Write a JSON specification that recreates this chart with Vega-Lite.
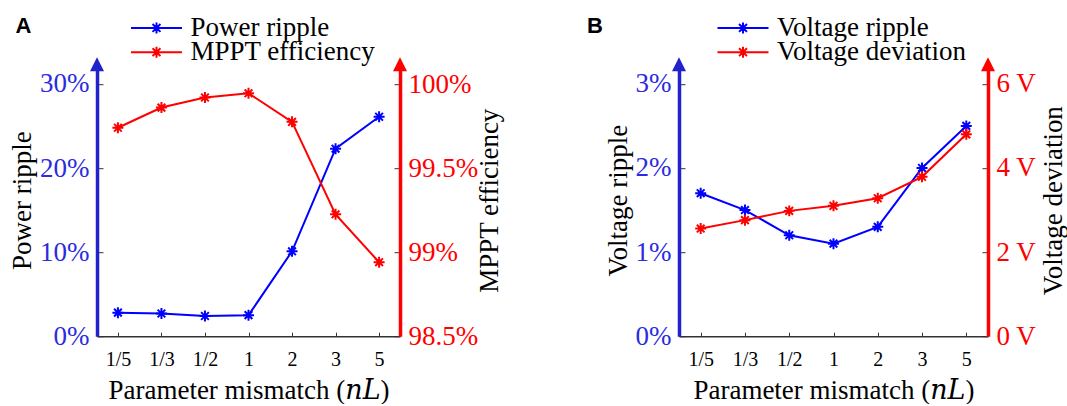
{
  "$schema": "https://vega.github.io/schema/vega-lite/v6.json",
  "background": "white",
  "padding": {"left": 8, "top": 14.2, "right": 0, "bottom": 0},
  "spacing": 84,
  "config": {
    "font": "Liberation Serif",
    "view": {"stroke": null},
    "axis": {"grid": false, "labelFont": "Liberation Serif", "titleFont": "Liberation Serif, DejaVu Serif", "titleFontWeight": "normal", "titleColor": "#000000", "tickColor": "#333333", "tickWidth": 1, "tickSize": -4},
    "axisY": {"tickSize": -6},
    "title": {"font": "Liberation Sans", "fontWeight": "bold", "fontSize": 22, "anchor": "start", "frame": "bounds", "color": "#000000", "offset": -23.3},
    "legend": {"orient": "none", "title": null, "padding": 0, "labelFont": "Liberation Serif", "labelFontSize": 27, "labelColor": "#000000", "labelOffset": 20.5, "labelLimit": 400, "rowPadding": 0, "symbolSize": 576, "symbolStrokeWidth": 2, "symbolFillColor": "transparent", "symbolType": "M-2.125,0H2.125M-0.46,0H0.46M0,-0.46V0.46M-0.33,-0.33L0.33,0.33M-0.33,0.33L0.33,-0.33"}
  },
  "datasets": {
    "a": [
      {"nL": "1/5", "series": "Power ripple", "value": 2.8},
      {"nL": "1/3", "series": "Power ripple", "value": 2.7},
      {"nL": "1/2", "series": "Power ripple", "value": 2.4},
      {"nL": "1", "series": "Power ripple", "value": 2.5},
      {"nL": "2", "series": "Power ripple", "value": 10.1},
      {"nL": "3", "series": "Power ripple", "value": 22.3},
      {"nL": "5", "series": "Power ripple", "value": 26.1},
      {"nL": "1/5", "series": "MPPT efficiency", "value": 99.74},
      {"nL": "1/3", "series": "MPPT efficiency", "value": 99.86},
      {"nL": "1/2", "series": "MPPT efficiency", "value": 99.92},
      {"nL": "1", "series": "MPPT efficiency", "value": 99.945},
      {"nL": "2", "series": "MPPT efficiency", "value": 99.775},
      {"nL": "3", "series": "MPPT efficiency", "value": 99.225},
      {"nL": "5", "series": "MPPT efficiency", "value": 98.94}
    ],
    "b": [
      {"nL": "1/5", "series": "Voltage ripple", "value": 1.7},
      {"nL": "1/3", "series": "Voltage ripple", "value": 1.5},
      {"nL": "1/2", "series": "Voltage ripple", "value": 1.2},
      {"nL": "1", "series": "Voltage ripple", "value": 1.1},
      {"nL": "2", "series": "Voltage ripple", "value": 1.3},
      {"nL": "3", "series": "Voltage ripple", "value": 2.0},
      {"nL": "5", "series": "Voltage ripple", "value": 2.5},
      {"nL": "1/5", "series": "Voltage deviation", "value": 2.56},
      {"nL": "1/3", "series": "Voltage deviation", "value": 2.76},
      {"nL": "1/2", "series": "Voltage deviation", "value": 2.98},
      {"nL": "1", "series": "Voltage deviation", "value": 3.1},
      {"nL": "2", "series": "Voltage deviation", "value": 3.28},
      {"nL": "3", "series": "Voltage deviation", "value": 3.79},
      {"nL": "5", "series": "Voltage deviation", "value": 4.8}
    ]
  },
  "hconcat": [
    {
      "title": {"text": "A", "dx": 7},
      "width": 303,
      "height": 272,
      "data": {"name": "a"},
      "encoding": {
        "x": {"field": "nL", "type": "ordinal", "sort": ["1/5", "1/3", "1/2", "1", "2", "3", "5"], "scale": {"type": "point", "padding": 0.48},
          "axis": {"title": "Parameter mismatch (𝑛𝐿)", "labelAngle": 0, "labelFontSize": 20, "labelColor": "#000000", "labelPadding": 17.5, "domainColor": "#333333", "domainWidth": 1.5, "titleFontSize": 27, "titlePadding": 8}}
      },
      "layer": [
        {
          "transform": [{"filter": "datum.series === 'Power ripple'"}],
          "encoding": {"y": {"field": "value", "type": "quantitative", "scale": {"domain": [0, 32.35], "nice": false, "zero": false},
            "axis": {"orient": "left", "title": "Power ripple", "values": [0, 10, 20, 30], "labelExpr": "datum.value + '%'", "domainColor": "#2222CC", "domainWidth": 3.5, "labelColor": "#2B2BE0", "labelFontSize": 27, "labelPadding": 14, "titleFontSize": 27, "titlePadding": 3}}},
          "layer": [
            {"mark": {"type": "line", "strokeWidth": 2}, "encoding": {"color": {"field": "series", "type": "nominal", "scale": {"domain": ["Power ripple"], "range": ["#0000FF"]}, "legend": {"legendX": 46, "legendY": -49.8}}}},
            {"mark": {"type": "point", "shape": "M-1,0H1M0,-1V1M-0.7,-0.7L0.7,0.7M-0.7,0.7L0.7,-0.7", "filled": false, "size": 121, "strokeWidth": 2, "opacity": 1}, "encoding": {"color": {"field": "series", "type": "nominal", "scale": {"domain": ["Power ripple"], "range": ["#0000FF"]}}}},
            {"transform": [{"filter": "datum.nL === '1/5'"}], "mark": {"type": "point", "shape": "M0,-1L-1,1L1,1Z", "filled": true, "size": 196, "color": "#2222CC", "opacity": 1, "strokeWidth": 0}, "encoding": {"x": {"value": 0}, "y": {"datum": 32.35, "type": "quantitative"}}}
          ]
        },
        {
          "transform": [{"filter": "datum.series === 'MPPT efficiency'"}],
          "encoding": {"y": {"field": "value", "type": "quantitative", "scale": {"domain": [98.5, 100.118], "nice": false, "zero": false},
            "axis": {"orient": "right", "title": "MPPT efficiency", "titleAngle": 270, "values": [98.5, 99, 99.5, 100], "labelExpr": "datum.value + '%'", "domainColor": "#FF0000", "domainWidth": 3.5, "labelColor": "#FF0000", "labelFontSize": 27, "labelPadding": 14, "titleFontSize": 27, "titlePadding": 26}}},
          "layer": [
            {"mark": {"type": "line", "strokeWidth": 2}, "encoding": {"stroke": {"field": "series", "type": "nominal", "scale": {"domain": ["MPPT efficiency"], "range": ["#FF0000"]}, "legend": {"legendX": 46, "legendY": -25.5}}}},
            {"mark": {"type": "point", "shape": "M-1,0H1M0,-1V1M-0.7,-0.7L0.7,0.7M-0.7,0.7L0.7,-0.7", "filled": false, "size": 121, "strokeWidth": 2, "opacity": 1}, "encoding": {"stroke": {"field": "series", "type": "nominal", "scale": {"domain": ["MPPT efficiency"], "range": ["#FF0000"]}}}},
            {"transform": [{"filter": "datum.nL === '1/5'"}], "mark": {"type": "point", "shape": "M0,-1L-1,1L1,1Z", "filled": true, "size": 196, "color": "#FF0000", "opacity": 1, "strokeWidth": 0}, "encoding": {"x": {"value": "width"}, "y": {"datum": 100.118, "type": "quantitative"}}}
          ]
        }
      ],
      "resolve": {"scale": {"y": "independent"}}
    },
    {
      "title": {"text": "B", "dx": -17},
      "width": 309,
      "height": 272,
      "data": {"name": "b"},
      "encoding": {
        "x": {"field": "nL", "type": "ordinal", "sort": ["1/5", "1/3", "1/2", "1", "2", "3", "5"], "scale": {"type": "point", "padding": 0.49},
          "axis": {"title": "Parameter mismatch (𝑛𝐿)", "labelAngle": 0, "labelFontSize": 20, "labelColor": "#000000", "labelPadding": 17.5, "domainColor": "#333333", "domainWidth": 1.5, "titleFontSize": 27, "titlePadding": 8}}
      },
      "layer": [
        {
          "transform": [{"filter": "datum.series === 'Voltage ripple'"}],
          "encoding": {"y": {"field": "value", "type": "quantitative", "scale": {"domain": [0, 3.234], "nice": false, "zero": false},
            "axis": {"orient": "left", "title": "Voltage ripple", "values": [0, 1, 2, 3], "labelExpr": "datum.value + '%'", "domainColor": "#2222CC", "domainWidth": 3.5, "labelColor": "#2B2BE0", "labelFontSize": 27, "labelPadding": 14, "titleFontSize": 27, "titlePadding": 3}}},
          "layer": [
            {"mark": {"type": "line", "strokeWidth": 2}, "encoding": {"color": {"field": "series", "type": "nominal", "scale": {"domain": ["Voltage ripple"], "range": ["#0000FF"]}, "legend": {"legendX": 50.5, "legendY": -49.8}}}},
            {"mark": {"type": "point", "shape": "M-1,0H1M0,-1V1M-0.7,-0.7L0.7,0.7M-0.7,0.7L0.7,-0.7", "filled": false, "size": 121, "strokeWidth": 2, "opacity": 1}, "encoding": {"color": {"field": "series", "type": "nominal", "scale": {"domain": ["Voltage ripple"], "range": ["#0000FF"]}}}},
            {"transform": [{"filter": "datum.nL === '1/5'"}], "mark": {"type": "point", "shape": "M0,-1L-1,1L1,1Z", "filled": true, "size": 196, "color": "#2222CC", "opacity": 1, "strokeWidth": 0}, "encoding": {"x": {"value": 0}, "y": {"datum": 3.234, "type": "quantitative"}}}
          ]
        },
        {
          "transform": [{"filter": "datum.series === 'Voltage deviation'"}],
          "encoding": {"y": {"field": "value", "type": "quantitative", "scale": {"domain": [0, 6.468], "nice": false, "zero": false},
            "axis": {"orient": "right", "title": "Voltage deviation", "titleAngle": 270, "values": [0, 2, 4, 6], "labelExpr": "datum.value + ' V'", "domainColor": "#FF0000", "domainWidth": 3.5, "labelColor": "#FF0000", "labelFontSize": 27, "labelPadding": 14, "titleFontSize": 27, "titlePadding": 32}}},
          "layer": [
            {"mark": {"type": "line", "strokeWidth": 2}, "encoding": {"stroke": {"field": "series", "type": "nominal", "scale": {"domain": ["Voltage deviation"], "range": ["#FF0000"]}, "legend": {"legendX": 50.5, "legendY": -25.5}}}},
            {"mark": {"type": "point", "shape": "M-1,0H1M0,-1V1M-0.7,-0.7L0.7,0.7M-0.7,0.7L0.7,-0.7", "filled": false, "size": 121, "strokeWidth": 2, "opacity": 1}, "encoding": {"stroke": {"field": "series", "type": "nominal", "scale": {"domain": ["Voltage deviation"], "range": ["#FF0000"]}}}},
            {"transform": [{"filter": "datum.nL === '1/5'"}], "mark": {"type": "point", "shape": "M0,-1L-1,1L1,1Z", "filled": true, "size": 196, "color": "#FF0000", "opacity": 1, "strokeWidth": 0}, "encoding": {"x": {"value": "width"}, "y": {"datum": 6.468, "type": "quantitative"}}}
          ]
        }
      ],
      "resolve": {"scale": {"y": "independent"}}
    }
  ],
  "resolve": {"scale": {"color": "independent", "stroke": "independent"}, "legend": {"color": "independent", "stroke": "independent"}}
}
